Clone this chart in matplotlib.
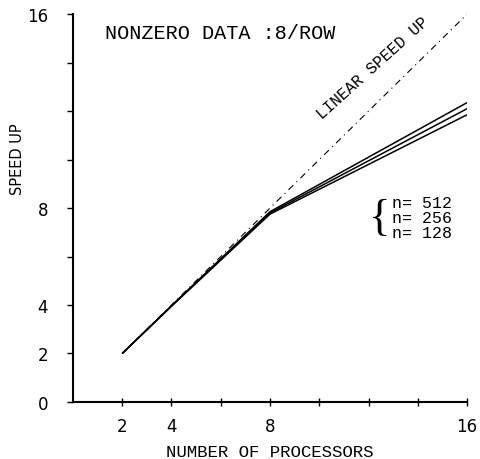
import matplotlib
matplotlib.use("Agg")
import matplotlib.pyplot as plt

processors = [2, 4, 8, 16]
speedup_512 = [2.0, 3.97, 7.85, 12.35]
speedup_256 = [2.0, 3.96, 7.80, 12.10]
speedup_128 = [2.0, 3.95, 7.75, 11.85]
linear_x = [2, 16]
linear_y = [2, 16]
legend_labels = ["n= 512", "n= 256", "n= 128"]
x_ticks = [2, 4, 6, 8, 10, 12, 14, 16]
x_ticklabels = ["2", "4", "", "8", "", "", "", "16"]
y_ticks = [0, 2, 4, 6, 8, 10, 12, 14, 16]
y_ticklabels = ["0", "2", "4", "", "8", "", "", "", "16"]

MONO = "Liberation Mono"
fig = plt.figure(figsize=(4.8, 4.6), dpi=100)
ax = fig.add_axes([0.152, 0.124, 0.821, 0.843])
ax.set_xlim(0, 16)
ax.set_ylim(0, 16)

ax.plot(linear_x, linear_y, color="black", lw=0.8, linestyle=(0, (6, 4, 1, 4)))
for ys in (speedup_512, speedup_256, speedup_128):
    ax.plot(processors, ys, color="black", lw=1.1, solid_capstyle="butt")

for s in ("top", "right"):
    ax.spines[s].set_visible(False)
for s in ("left", "bottom"):
    ax.spines[s].set_linewidth(1.5)

ax.set_xticks(x_ticks)
ax.set_xticklabels(x_ticklabels, fontsize=12, family="DejaVu Sans")
ax.set_yticks(y_ticks)
ax.set_yticklabels(y_ticklabels, fontsize=12, family="DejaVu Sans")
ax.tick_params(axis="x", direction="inout", length=6, width=1, pad=8)
ax.tick_params(axis="y", direction="out", length=4, width=1, pad=14)

ax.set_xlabel("NUMBER OF PROCESSORS", family=MONO, fontsize=12.5, labelpad=6)
fig.text(0.036, 0.654, "SPEED UP", rotation=90, family="DejaVu Sans",
         fontsize=10.5, ha="center", va="center")

ax.text(1.3, 15.25, "NONZERO DATA :8/ROW", family=MONO, fontsize=14.5,
        ha="left", va="center")
ax.text(12.15, 13.8, "LINEAR SPEED UP", family=MONO, fontsize=11.5,
        rotation=42, ha="center", va="center", rotation_mode="anchor")

legend_y = [8.25, 7.6, 7.0]
for lab, yy in zip(legend_labels, legend_y):
    ax.text(12.95, yy, lab, family=MONO, fontsize=12, ha="left", va="center")
ax.text(12.45, 7.6, "{", family="Liberation Serif", fontsize=32,
        ha="center", va="center")

fig.savefig("out.png", dpi=100)
